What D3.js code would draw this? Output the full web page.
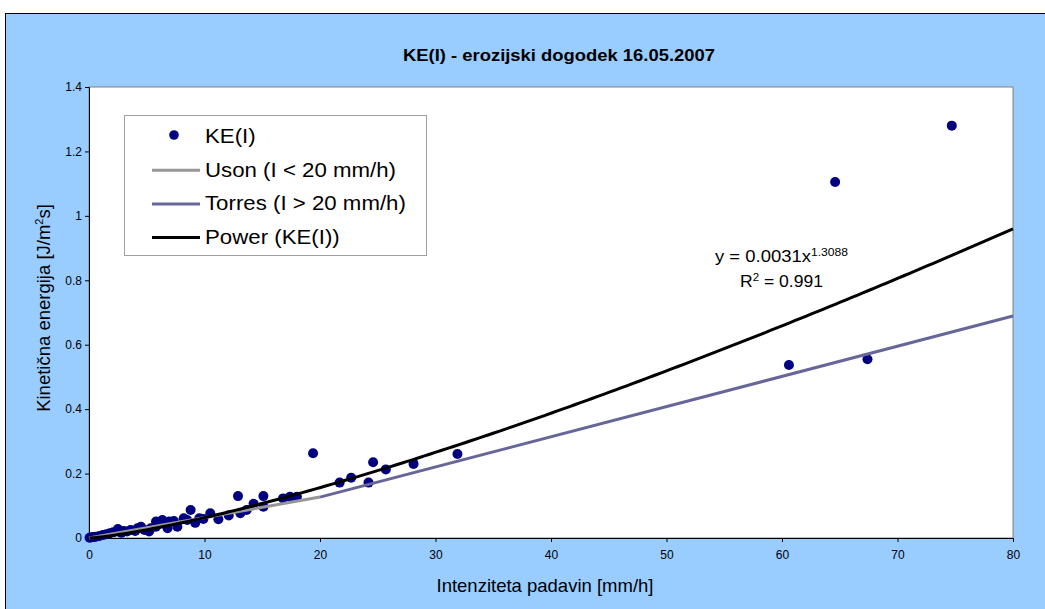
<!DOCTYPE html>
<html>
<head>
<meta charset="utf-8">
<script src="https://cdn.jsdelivr.net/npm/d3@7"></script>
<style>
  body { margin: 0; background: #fff; }
  text { font-family: "Liberation Sans", Arial, sans-serif; fill: #000; }
</style>
</head>
<body>
<svg width="1045" height="609"></svg>
<script>
// Measured points: rain intensity [mm/h] and kinetic energy [J/m2s]
const intensity = [0.05, 0.2, 0.4, 0.6, 0.9, 1.2, 1.5, 1.8, 2.1, 2.5, 2.8, 3.0, 3.3, 3.6, 4.0, 4.2, 4.5, 4.8,
    5.2, 5.35, 5.8, 5.8, 6.35, 6.8, 6.95, 7.35, 7.65, 8.2, 8.5, 8.8, 9.2, 9.55, 9.9, 10.5, 11.2, 12.1,
    12.9, 13.1, 13.65, 14.25, 15.1, 15.1, 16.8, 17.4, 18.0, 19.4, 21.7, 22.7, 24.2, 24.6, 25.7, 28.1,
    31.9, 60.6, 64.6, 67.4, 74.7];
const energy = [0.001, 0.002, 0.003, 0.004, 0.006, 0.009, 0.012, 0.015, 0.018, 0.028, 0.016, 0.022, 0.020,
    0.025, 0.022, 0.030, 0.035, 0.025, 0.020, 0.030, 0.051, 0.035, 0.056, 0.030, 0.051, 0.053, 0.035,
    0.061, 0.056, 0.087, 0.047, 0.061, 0.059, 0.077, 0.058, 0.070, 0.130, 0.077, 0.087, 0.106, 0.130,
    0.097, 0.123, 0.128, 0.128, 0.263, 0.172, 0.187, 0.172, 0.235, 0.213, 0.230, 0.261, 0.537, 1.105,
    0.555, 1.280];

// Reference relations (line endpoints)
const usonI = [0, 20];
const usonKE = [0, 0.127];
const torresI = [20, 80];
const torresKE = [0.127, 0.689];

// Power trendline shown on the chart: y = 0.0031 x^1.3088
const powerA = 0.0031;
const powerB = 1.3088;

const xTicks = [0, 10, 20, 30, 40, 50, 60, 70, 80];
const yTicks = [0, 0.2, 0.4, 0.6, 0.8, 1, 1.2, 1.4];
const legendLabels = ["KE(I)", "Uson (I < 20 mm/h)", "Torres (I > 20 mm/h)", "Power (KE(I))"];

window.onload = init;

function init() {
    const svg = d3.select("svg");

    // Light blue chart area
    svg.append("rect")
        .attr("x", 5.5).attr("y", 13.5)
        .attr("width", 1100).attr("height", 700)
        .attr("fill", "#99ccff")
        .attr("stroke", "#000").attr("stroke-width", 1);

    const x = d3.scaleLinear().domain([0, 80]).range([89, 1013]);
    const y = d3.scaleLinear().domain([0, 1.4]).range([538, 87]);

    // Plot area
    svg.append("rect")
        .attr("x", x(0)).attr("y", y(1.4))
        .attr("width", x(80) - x(0)).attr("height", y(0) - y(1.4))
        .attr("fill", "#fff")
        .attr("stroke", "#808080").attr("stroke-width", 1);

    // Axes
    const xAxis = svg.append("g")
        .attr("transform", `translate(0,${y(0)})`)
        .call(d3.axisBottom(x).tickValues(xTicks).tickSize(4).tickPadding(8).tickFormat(d3.format("d")));
    const yAxis = svg.append("g")
        .attr("transform", `translate(${x(0)},0)`)
        .call(d3.axisLeft(y).tickValues(yTicks).tickSize(4).tickPadding(3).tickFormat(d => d3.format("")(d)));
    [xAxis, yAxis].forEach(a => {
        a.select(".domain").attr("stroke", "#000");
        a.selectAll(".tick line").attr("stroke", "#000");
        a.selectAll("text").style("font-size", "12px").style("font-family", "Liberation Sans, Arial, sans-serif");
    });

    // Data points
    const points = intensity.map((v, i) => ({ i: v, ke: energy[i] }));
    svg.append("g").selectAll("circle")
        .data(points)
        .join("circle")
        .attr("cx", d => x(d.i))
        .attr("cy", d => y(d.ke))
        .attr("r", 5)
        .attr("fill", "#000080");

    const line = d3.line().x(d => x(d[0])).y(d => y(d[1]));

    // Uson and Torres relations
    svg.append("path")
        .attr("d", line(usonI.map((v, i) => [v, usonKE[i]])))
        .attr("fill", "none").attr("stroke", "#969696").attr("stroke-width", 3);
    svg.append("path")
        .attr("d", line(torresI.map((v, i) => [v, torresKE[i]])))
        .attr("fill", "none").attr("stroke", "#666699").attr("stroke-width", 3);

    // Power trendline from the first measured intensity to the axis end
    const trend = d3.range(d3.min(intensity), 80.001, 0.5).concat([80])
        .map(v => [v, powerA * Math.pow(v, powerB)]);
    svg.append("path")
        .attr("d", line(trend))
        .attr("fill", "none").attr("stroke", "#000").attr("stroke-width", 3);

    // Title
    svg.append("text")
        .attr("x", 403).attr("y", 61)
        .attr("textLength", 312).attr("lengthAdjust", "spacingAndGlyphs")
        .style("font-size", "16px").style("font-weight", "bold")
        .text("KE(I) - erozijski dogodek 16.05.2007");

    // Axis titles
    svg.append("text")
        .attr("x", 545).attr("y", 592)
        .attr("text-anchor", "middle")
        .style("font-size", "18.5px")
        .text("Intenziteta padavin [mm/h]");
    const yTitle = svg.append("text")
        .attr("transform", "translate(50,308) rotate(-90)")
        .attr("text-anchor", "middle")
        .style("font-size", "18.5px");
    yTitle.append("tspan").text("Kinetična energija [J/m");
    yTitle.append("tspan").attr("dy", -7).style("font-size", "11px").text("2");
    yTitle.append("tspan").attr("dy", 7).text("s]");

    // Equation text
    const eq1 = svg.append("text")
        .attr("x", 715).attr("y", 262)
        .attr("textLength", 133).attr("lengthAdjust", "spacingAndGlyphs")
        .style("font-size", "16px");
    eq1.append("tspan").text("y = 0.0031x");
    eq1.append("tspan").attr("dy", -6).style("font-size", "10.5px").text("1.3088");
    const eq2 = svg.append("text")
        .attr("x", 740).attr("y", 287)
        .attr("textLength", 83).attr("lengthAdjust", "spacingAndGlyphs")
        .style("font-size", "16px");
    eq2.append("tspan").text("R");
    eq2.append("tspan").attr("dy", -6).style("font-size", "10.5px").text("2");
    eq2.append("tspan").attr("dy", 6).text(" = 0.991");

    // Legend
    svg.append("rect")
        .attr("x", 124.5).attr("y", 115.5)
        .attr("width", 302).attr("height", 140)
        .attr("fill", "#fff")
        .attr("stroke", "#a0a0a0").attr("stroke-width", 1);

    const legendStyles = [
        { type: "dot", color: "#000080" },
        { type: "line", color: "#969696" },
        { type: "line", color: "#666699" },
        { type: "line", color: "#000" }
    ];
    const legendGroup = svg.selectAll(".legend-entry")
        .data(legendLabels)
        .enter().append("g")
        .attr("class", "legend-entry")
        .attr("transform", (d, i) => `translate(0, ${143 + i * 33.7})`);

    legendGroup.each(function (d, i) {
        const g = d3.select(this);
        const st = legendStyles[i];
        if (st.type === "dot") {
            g.append("circle").attr("cx", 174).attr("cy", -8).attr("r", 4.8).attr("fill", st.color);
        } else {
            g.append("line")
                .attr("x1", 152).attr("x2", 200)
                .attr("y1", -6.5).attr("y2", -6.5)
                .attr("stroke", st.color).attr("stroke-width", 3);
        }
        g.append("text")
            .attr("transform", "translate(205,0) scale(1.06,1)")
            .style("font-size", "21px")
            .text(d);
    });
}
</script>
</body>
</html>
